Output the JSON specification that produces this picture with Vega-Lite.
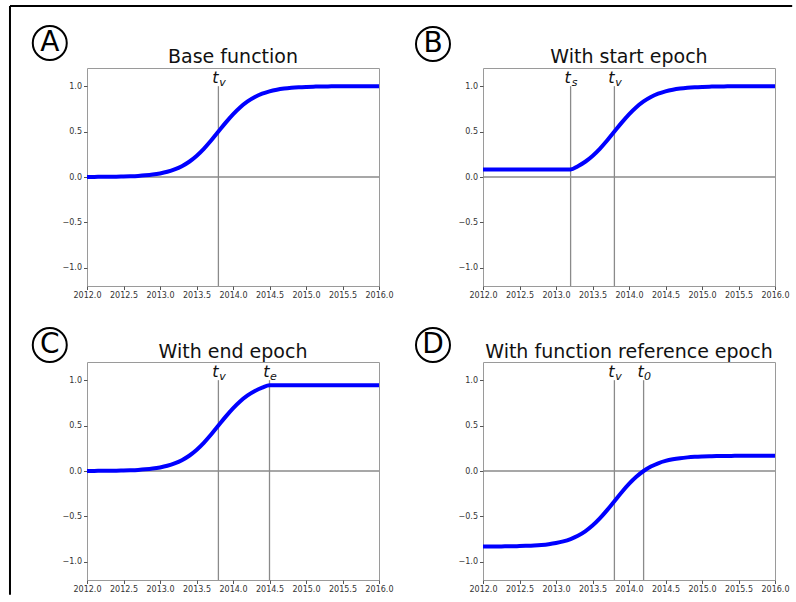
{
  "$schema": "https://vega.github.io/schema/vega-lite/v6.json",
  "padding": {"left": 8, "top": 4, "right": 0, "bottom": 0},
  "bounds": "flush",
  "columns": 2,
  "spacing": {"row": 76, "column": 104},
  "config": {
    "font": "DejaVu Sans",
    "view": {"stroke": "#9a9a9a", "strokeWidth": 1},
    "axis": {"grid": false, "domain": false, "labelFont": "DejaVu Sans", "labelFontSize": 8, "labelColor": "#333333", "tickColor": "#555555", "tickSize": 3.5, "labelPadding": 2, "labelFlush": false, "labelOverlap": false},
    "axisX": {"values": [2012, 2012.5, 2013, 2013.5, 2014, 2014.5, 2015, 2015.5, 2016], "format": ".1f"},
    "axisY": {"values": [-1, -0.5, 0, 0.5, 1], "format": ".1f"}
  },
  "datasets": {
    "curves": [
      {"x": 2012.0, "A": 0.0007, "B": 0.0832, "C": 0.0007, "D": -0.8313},
      {"x": 2012.1, "A": 0.0011, "B": 0.0832, "C": 0.0011, "D": -0.8309},
      {"x": 2012.2, "A": 0.0017, "B": 0.0832, "C": 0.0017, "D": -0.8303},
      {"x": 2012.3, "A": 0.0025, "B": 0.0832, "C": 0.0025, "D": -0.8295},
      {"x": 2012.4, "A": 0.0037, "B": 0.0832, "C": 0.0037, "D": -0.8283},
      {"x": 2012.5, "A": 0.0055, "B": 0.0832, "C": 0.0055, "D": -0.8265},
      {"x": 2012.6, "A": 0.0082, "B": 0.0832, "C": 0.0082, "D": -0.8238},
      {"x": 2012.7, "A": 0.0121, "B": 0.0832, "C": 0.0121, "D": -0.8199},
      {"x": 2012.8, "A": 0.0180, "B": 0.0832, "C": 0.0180, "D": -0.8140},
      {"x": 2012.9, "A": 0.0266, "B": 0.0832, "C": 0.0266, "D": -0.8054},
      {"x": 2013.0, "A": 0.0392, "B": 0.0832, "C": 0.0392, "D": -0.7928},
      {"x": 2013.1, "A": 0.0573, "B": 0.0832, "C": 0.0573, "D": -0.7747},
      {"x": 2013.2, "A": 0.0832, "B": 0.0832, "C": 0.0832, "D": -0.7488},
      {"x": 2013.3, "A": 0.1192, "B": 0.1192, "C": 0.1192, "D": -0.7128},
      {"x": 2013.4, "A": 0.1680, "B": 0.1680, "C": 0.1680, "D": -0.6640},
      {"x": 2013.5, "A": 0.2315, "B": 0.2315, "C": 0.2315, "D": -0.6005},
      {"x": 2013.6, "A": 0.3100, "B": 0.3100, "C": 0.3100, "D": -0.5220},
      {"x": 2013.7, "A": 0.4013, "B": 0.4013, "C": 0.4013, "D": -0.4307},
      {"x": 2013.8, "A": 0.5000, "B": 0.5000, "C": 0.5000, "D": -0.3320},
      {"x": 2013.9, "A": 0.5987, "B": 0.5987, "C": 0.5987, "D": -0.2333},
      {"x": 2014.0, "A": 0.6900, "B": 0.6900, "C": 0.6900, "D": -0.1420},
      {"x": 2014.1, "A": 0.7685, "B": 0.7685, "C": 0.7685, "D": -0.0635},
      {"x": 2014.2, "A": 0.8320, "B": 0.8320, "C": 0.8320, "D": 0.0000},
      {"x": 2014.3, "A": 0.8808, "B": 0.8808, "C": 0.8808, "D": 0.0488},
      {"x": 2014.4, "A": 0.9168, "B": 0.9168, "C": 0.9168, "D": 0.0848},
      {"x": 2014.5, "A": 0.9427, "B": 0.9427, "C": 0.9427, "D": 0.1107},
      {"x": 2014.6, "A": 0.9608, "B": 0.9608, "C": 0.9427, "D": 0.1288},
      {"x": 2014.7, "A": 0.9734, "B": 0.9734, "C": 0.9427, "D": 0.1414},
      {"x": 2014.8, "A": 0.9820, "B": 0.9820, "C": 0.9427, "D": 0.1500},
      {"x": 2014.9, "A": 0.9879, "B": 0.9879, "C": 0.9427, "D": 0.1559},
      {"x": 2015.0, "A": 0.9918, "B": 0.9918, "C": 0.9427, "D": 0.1598},
      {"x": 2015.1, "A": 0.9945, "B": 0.9945, "C": 0.9427, "D": 0.1625},
      {"x": 2015.2, "A": 0.9963, "B": 0.9963, "C": 0.9427, "D": 0.1643},
      {"x": 2015.3, "A": 0.9975, "B": 0.9975, "C": 0.9427, "D": 0.1655},
      {"x": 2015.4, "A": 0.9983, "B": 0.9983, "C": 0.9427, "D": 0.1663},
      {"x": 2015.5, "A": 0.9989, "B": 0.9989, "C": 0.9427, "D": 0.1669},
      {"x": 2015.6, "A": 0.9992, "B": 0.9992, "C": 0.9427, "D": 0.1672},
      {"x": 2015.7, "A": 0.9995, "B": 0.9995, "C": 0.9427, "D": 0.1675},
      {"x": 2015.8, "A": 0.9996, "B": 0.9996, "C": 0.9427, "D": 0.1676},
      {"x": 2015.9, "A": 0.9998, "B": 0.9998, "C": 0.9427, "D": 0.1678},
      {"x": 2016.0, "A": 0.9998, "B": 0.9998, "C": 0.9427, "D": 0.1678}
    ],
    "vlines": [
      {"p": "A", "x": 2013.8, "main": "t", "sub": "v"},
      {"p": "B", "x": 2013.2, "main": "t", "sub": "s"},
      {"p": "B", "x": 2013.8, "main": "t", "sub": "v"},
      {"p": "C", "x": 2013.8, "main": "t", "sub": "v"},
      {"p": "C", "x": 2014.5, "main": "t", "sub": "e"},
      {"p": "D", "x": 2013.8, "main": "t", "sub": "v"},
      {"p": "D", "x": 2014.2, "main": "t", "sub": "0"}
    ],
    "hlines": [
      {"p": "A", "y": 0}, {"p": "B", "y": 0}, {"p": "C", "y": 0}, {"p": "D", "y": 0}
    ],
    "badges": [
      {"p": "A", "letter": "A", "title": "Base function"},
      {"p": "B", "letter": "B", "title": "With start epoch"},
      {"p": "C", "letter": "C", "title": "With end epoch"},
      {"p": "D", "letter": "D", "title": "With function reference epoch"}
    ]
  },
  "concat": [
    {
      "width": 292, "height": 218,
      "layer": [
        {"data": {"name": "badges"}, "transform": [{"filter": "datum.p == 'A'"}], "mark": {"type": "rule", "color": "#000000", "strokeWidth": 2},
         "encoding": {"x": {"datum": 2010.945, "type": "quantitative", "scale": {"domain": [2012, 2016], "nice": false, "zero": false}}, "y": {"datum": 1.8826, "type": "quantitative", "scale": {"domain": [-1.2, 1.2], "nice": false, "zero": false}}, "y2": {"datum": -4.6}}},
        {"data": {"name": "badges"}, "transform": [{"filter": "datum.p == 'A'"}], "mark": {"type": "rule", "color": "#000000", "strokeWidth": 2},
         "encoding": {"x": {"datum": 2010.945, "type": "quantitative", "scale": {"domain": [2012, 2016], "nice": false, "zero": false}}, "x2": {"datum": 2021.66}, "y": {"datum": 1.8826, "type": "quantitative", "scale": {"domain": [-1.2, 1.2], "nice": false, "zero": false}}}},
        {"data": {"name": "hlines"}, "transform": [{"filter": "datum.p == 'A'"}], "mark": {"type": "rule", "color": "#8a8a8a", "strokeWidth": 1.3},
         "encoding": {"y": {"field": "y", "type": "quantitative", "title": null, "scale": {"domain": [-1.2, 1.2], "nice": false, "zero": false}}}},
        {"data": {"name": "vlines"}, "transform": [{"filter": "datum.p == 'A'"}], "mark": {"type": "rule", "color": "#8a8a8a", "strokeWidth": 1.3},
         "encoding": {"x": {"field": "x", "type": "quantitative", "title": null, "scale": {"domain": [2012, 2016], "nice": false, "zero": false}}, "y": {"datum": -1.2, "type": "quantitative", "scale": {"domain": [-1.2, 1.2], "nice": false, "zero": false}}, "y2": {"datum": 1.0}}},
        {"data": {"name": "curves"}, "transform": [{"fold": ["A"], "as": ["p", "y"]}], "mark": {"type": "line", "color": "#0000ff", "strokeWidth": 4, "interpolate": "monotone"},
         "encoding": {"x": {"field": "x", "type": "quantitative", "title": null, "scale": {"domain": [2012, 2016], "nice": false, "zero": false}}, "y": {"field": "y", "type": "quantitative", "title": null, "scale": {"domain": [-1.2, 1.2], "nice": false, "zero": false}}}},
        {"data": {"name": "vlines"}, "transform": [{"filter": "datum.p == 'A'"}], "mark": {"type": "text", "font": "DejaVu Sans", "fontStyle": "italic", "fontSize": 16, "dx": -3, "dy": -3, "baseline": "alphabetic", "align": "center", "color": "#111111"},
         "encoding": {"x": {"field": "x", "type": "quantitative", "title": null, "scale": {"domain": [2012, 2016], "nice": false, "zero": false}}, "y": {"datum": 1.0, "type": "quantitative", "scale": {"domain": [-1.2, 1.2], "nice": false, "zero": false}}, "text": {"field": "main"}}},
        {"data": {"name": "vlines"}, "transform": [{"filter": "datum.p == 'A'"}], "mark": {"type": "text", "font": "DejaVu Sans", "fontStyle": "italic", "fontSize": 11, "dx": 4, "dy": 0, "baseline": "alphabetic", "align": "center", "color": "#111111"},
         "encoding": {"x": {"field": "x", "type": "quantitative", "title": null, "scale": {"domain": [2012, 2016], "nice": false, "zero": false}}, "y": {"datum": 1.0, "type": "quantitative", "scale": {"domain": [-1.2, 1.2], "nice": false, "zero": false}}, "text": {"field": "sub"}}},
        {"data": {"name": "badges"}, "transform": [{"filter": "datum.p == 'A'"}], "mark": {"type": "text", "fontSize": 19, "baseline": "alphabetic", "align": "center", "color": "#111111", "dy": -5},
         "encoding": {"x": {"datum": 2014, "type": "quantitative", "scale": {"domain": [2012, 2016], "nice": false, "zero": false}}, "y": {"datum": 1.2, "type": "quantitative", "scale": {"domain": [-1.2, 1.2], "nice": false, "zero": false}}, "text": {"field": "title"}}},
        {"data": {"name": "badges"}, "transform": [{"filter": "datum.p == 'A'"}], "mark": {"type": "point", "shape": "circle", "filled": false, "size": 1156, "stroke": "#000000", "strokeWidth": 2, "opacity": 1},
         "encoding": {"x": {"datum": 2011.49, "type": "quantitative", "scale": {"domain": [2012, 2016], "nice": false, "zero": false}}, "y": {"datum": 1.475, "type": "quantitative", "scale": {"domain": [-1.2, 1.2], "nice": false, "zero": false}}}},
        {"data": {"name": "badges"}, "transform": [{"filter": "datum.p == 'A'"}], "mark": {"type": "text", "fontSize": 28, "baseline": "middle", "align": "center", "color": "#000000"},
         "encoding": {"x": {"datum": 2011.49, "type": "quantitative", "scale": {"domain": [2012, 2016], "nice": false, "zero": false}}, "y": {"datum": 1.475, "type": "quantitative", "scale": {"domain": [-1.2, 1.2], "nice": false, "zero": false}}, "text": {"field": "letter"}}}
      ]
    },
    {
      "width": 292, "height": 218,
      "layer": [
        {"data": {"name": "hlines"}, "transform": [{"filter": "datum.p == 'B'"}], "mark": {"type": "rule", "color": "#8a8a8a", "strokeWidth": 1.3},
         "encoding": {"y": {"field": "y", "type": "quantitative", "title": null, "scale": {"domain": [-1.2, 1.2], "nice": false, "zero": false}}}},
        {"data": {"name": "vlines"}, "transform": [{"filter": "datum.p == 'B'"}], "mark": {"type": "rule", "color": "#8a8a8a", "strokeWidth": 1.3},
         "encoding": {"x": {"field": "x", "type": "quantitative", "title": null, "scale": {"domain": [2012, 2016], "nice": false, "zero": false}}, "y": {"datum": -1.2, "type": "quantitative", "scale": {"domain": [-1.2, 1.2], "nice": false, "zero": false}}, "y2": {"datum": 1.0}}},
        {"data": {"name": "curves"}, "transform": [{"fold": ["B"], "as": ["p", "y"]}], "mark": {"type": "line", "color": "#0000ff", "strokeWidth": 4, "interpolate": "monotone"},
         "encoding": {"x": {"field": "x", "type": "quantitative", "title": null, "scale": {"domain": [2012, 2016], "nice": false, "zero": false}}, "y": {"field": "y", "type": "quantitative", "title": null, "scale": {"domain": [-1.2, 1.2], "nice": false, "zero": false}}}},
        {"data": {"name": "vlines"}, "transform": [{"filter": "datum.p == 'B'"}], "mark": {"type": "text", "font": "DejaVu Sans", "fontStyle": "italic", "fontSize": 16, "dx": -3, "dy": -3, "baseline": "alphabetic", "align": "center", "color": "#111111"},
         "encoding": {"x": {"field": "x", "type": "quantitative", "title": null, "scale": {"domain": [2012, 2016], "nice": false, "zero": false}}, "y": {"datum": 1.0, "type": "quantitative", "scale": {"domain": [-1.2, 1.2], "nice": false, "zero": false}}, "text": {"field": "main"}}},
        {"data": {"name": "vlines"}, "transform": [{"filter": "datum.p == 'B'"}], "mark": {"type": "text", "font": "DejaVu Sans", "fontStyle": "italic", "fontSize": 11, "dx": 4, "dy": 0, "baseline": "alphabetic", "align": "center", "color": "#111111"},
         "encoding": {"x": {"field": "x", "type": "quantitative", "title": null, "scale": {"domain": [2012, 2016], "nice": false, "zero": false}}, "y": {"datum": 1.0, "type": "quantitative", "scale": {"domain": [-1.2, 1.2], "nice": false, "zero": false}}, "text": {"field": "sub"}}},
        {"data": {"name": "badges"}, "transform": [{"filter": "datum.p == 'B'"}], "mark": {"type": "text", "fontSize": 19, "baseline": "alphabetic", "align": "center", "color": "#111111", "dy": -5},
         "encoding": {"x": {"datum": 2014, "type": "quantitative", "scale": {"domain": [2012, 2016], "nice": false, "zero": false}}, "y": {"datum": 1.2, "type": "quantitative", "scale": {"domain": [-1.2, 1.2], "nice": false, "zero": false}}, "text": {"field": "title"}}},
        {"data": {"name": "badges"}, "transform": [{"filter": "datum.p == 'B'"}], "mark": {"type": "point", "shape": "circle", "filled": false, "size": 1156, "stroke": "#000000", "strokeWidth": 2, "opacity": 1},
         "encoding": {"x": {"datum": 2011.315, "type": "quantitative", "scale": {"domain": [2012, 2016], "nice": false, "zero": false}}, "y": {"datum": 1.464, "type": "quantitative", "scale": {"domain": [-1.2, 1.2], "nice": false, "zero": false}}}},
        {"data": {"name": "badges"}, "transform": [{"filter": "datum.p == 'B'"}], "mark": {"type": "text", "fontSize": 28, "baseline": "middle", "align": "center", "color": "#000000"},
         "encoding": {"x": {"datum": 2011.315, "type": "quantitative", "scale": {"domain": [2012, 2016], "nice": false, "zero": false}}, "y": {"datum": 1.464, "type": "quantitative", "scale": {"domain": [-1.2, 1.2], "nice": false, "zero": false}}, "text": {"field": "letter"}}}
      ]
    },
    {
      "width": 292, "height": 218,
      "layer": [
        {"data": {"name": "hlines"}, "transform": [{"filter": "datum.p == 'C'"}], "mark": {"type": "rule", "color": "#8a8a8a", "strokeWidth": 1.3},
         "encoding": {"y": {"field": "y", "type": "quantitative", "title": null, "scale": {"domain": [-1.2, 1.2], "nice": false, "zero": false}}}},
        {"data": {"name": "vlines"}, "transform": [{"filter": "datum.p == 'C'"}], "mark": {"type": "rule", "color": "#8a8a8a", "strokeWidth": 1.3},
         "encoding": {"x": {"field": "x", "type": "quantitative", "title": null, "scale": {"domain": [2012, 2016], "nice": false, "zero": false}}, "y": {"datum": -1.2, "type": "quantitative", "scale": {"domain": [-1.2, 1.2], "nice": false, "zero": false}}, "y2": {"datum": 1.0}}},
        {"data": {"name": "curves"}, "transform": [{"fold": ["C"], "as": ["p", "y"]}], "mark": {"type": "line", "color": "#0000ff", "strokeWidth": 4, "interpolate": "monotone"},
         "encoding": {"x": {"field": "x", "type": "quantitative", "title": null, "scale": {"domain": [2012, 2016], "nice": false, "zero": false}}, "y": {"field": "y", "type": "quantitative", "title": null, "scale": {"domain": [-1.2, 1.2], "nice": false, "zero": false}}}},
        {"data": {"name": "vlines"}, "transform": [{"filter": "datum.p == 'C'"}], "mark": {"type": "text", "font": "DejaVu Sans", "fontStyle": "italic", "fontSize": 16, "dx": -3, "dy": -3, "baseline": "alphabetic", "align": "center", "color": "#111111"},
         "encoding": {"x": {"field": "x", "type": "quantitative", "title": null, "scale": {"domain": [2012, 2016], "nice": false, "zero": false}}, "y": {"datum": 1.0, "type": "quantitative", "scale": {"domain": [-1.2, 1.2], "nice": false, "zero": false}}, "text": {"field": "main"}}},
        {"data": {"name": "vlines"}, "transform": [{"filter": "datum.p == 'C'"}], "mark": {"type": "text", "font": "DejaVu Sans", "fontStyle": "italic", "fontSize": 11, "dx": 4, "dy": 0, "baseline": "alphabetic", "align": "center", "color": "#111111"},
         "encoding": {"x": {"field": "x", "type": "quantitative", "title": null, "scale": {"domain": [2012, 2016], "nice": false, "zero": false}}, "y": {"datum": 1.0, "type": "quantitative", "scale": {"domain": [-1.2, 1.2], "nice": false, "zero": false}}, "text": {"field": "sub"}}},
        {"data": {"name": "badges"}, "transform": [{"filter": "datum.p == 'C'"}], "mark": {"type": "text", "fontSize": 19, "baseline": "alphabetic", "align": "center", "color": "#111111", "dy": -4},
         "encoding": {"x": {"datum": 2014, "type": "quantitative", "scale": {"domain": [2012, 2016], "nice": false, "zero": false}}, "y": {"datum": 1.2, "type": "quantitative", "scale": {"domain": [-1.2, 1.2], "nice": false, "zero": false}}, "text": {"field": "title"}}},
        {"data": {"name": "badges"}, "transform": [{"filter": "datum.p == 'C'"}], "mark": {"type": "point", "shape": "circle", "filled": false, "size": 1156, "stroke": "#000000", "strokeWidth": 2, "opacity": 1},
         "encoding": {"x": {"datum": 2011.49, "type": "quantitative", "scale": {"domain": [2012, 2016], "nice": false, "zero": false}}, "y": {"datum": 1.387, "type": "quantitative", "scale": {"domain": [-1.2, 1.2], "nice": false, "zero": false}}}},
        {"data": {"name": "badges"}, "transform": [{"filter": "datum.p == 'C'"}], "mark": {"type": "text", "fontSize": 28, "baseline": "middle", "align": "center", "color": "#000000"},
         "encoding": {"x": {"datum": 2011.49, "type": "quantitative", "scale": {"domain": [2012, 2016], "nice": false, "zero": false}}, "y": {"datum": 1.387, "type": "quantitative", "scale": {"domain": [-1.2, 1.2], "nice": false, "zero": false}}, "text": {"field": "letter"}}}
      ]
    },
    {
      "width": 292, "height": 218,
      "layer": [
        {"data": {"name": "hlines"}, "transform": [{"filter": "datum.p == 'D'"}], "mark": {"type": "rule", "color": "#8a8a8a", "strokeWidth": 1.3},
         "encoding": {"y": {"field": "y", "type": "quantitative", "title": null, "scale": {"domain": [-1.2, 1.2], "nice": false, "zero": false}}}},
        {"data": {"name": "vlines"}, "transform": [{"filter": "datum.p == 'D'"}], "mark": {"type": "rule", "color": "#8a8a8a", "strokeWidth": 1.3},
         "encoding": {"x": {"field": "x", "type": "quantitative", "title": null, "scale": {"domain": [2012, 2016], "nice": false, "zero": false}}, "y": {"datum": -1.2, "type": "quantitative", "scale": {"domain": [-1.2, 1.2], "nice": false, "zero": false}}, "y2": {"datum": 1.0}}},
        {"data": {"name": "curves"}, "transform": [{"fold": ["D"], "as": ["p", "y"]}], "mark": {"type": "line", "color": "#0000ff", "strokeWidth": 4, "interpolate": "monotone"},
         "encoding": {"x": {"field": "x", "type": "quantitative", "title": null, "scale": {"domain": [2012, 2016], "nice": false, "zero": false}}, "y": {"field": "y", "type": "quantitative", "title": null, "scale": {"domain": [-1.2, 1.2], "nice": false, "zero": false}}}},
        {"data": {"name": "vlines"}, "transform": [{"filter": "datum.p == 'D'"}], "mark": {"type": "text", "font": "DejaVu Sans", "fontStyle": "italic", "fontSize": 16, "dx": -3, "dy": -3, "baseline": "alphabetic", "align": "center", "color": "#111111"},
         "encoding": {"x": {"field": "x", "type": "quantitative", "title": null, "scale": {"domain": [2012, 2016], "nice": false, "zero": false}}, "y": {"datum": 1.0, "type": "quantitative", "scale": {"domain": [-1.2, 1.2], "nice": false, "zero": false}}, "text": {"field": "main"}}},
        {"data": {"name": "vlines"}, "transform": [{"filter": "datum.p == 'D'"}], "mark": {"type": "text", "font": "DejaVu Sans", "fontStyle": "italic", "fontSize": 11, "dx": 4, "dy": 0, "baseline": "alphabetic", "align": "center", "color": "#111111"},
         "encoding": {"x": {"field": "x", "type": "quantitative", "title": null, "scale": {"domain": [2012, 2016], "nice": false, "zero": false}}, "y": {"datum": 1.0, "type": "quantitative", "scale": {"domain": [-1.2, 1.2], "nice": false, "zero": false}}, "text": {"field": "sub"}}},
        {"data": {"name": "badges"}, "transform": [{"filter": "datum.p == 'D'"}], "mark": {"type": "text", "fontSize": 19, "baseline": "alphabetic", "align": "center", "color": "#111111", "dy": -4},
         "encoding": {"x": {"datum": 2014, "type": "quantitative", "scale": {"domain": [2012, 2016], "nice": false, "zero": false}}, "y": {"datum": 1.2, "type": "quantitative", "scale": {"domain": [-1.2, 1.2], "nice": false, "zero": false}}, "text": {"field": "title"}}},
        {"data": {"name": "badges"}, "transform": [{"filter": "datum.p == 'D'"}], "mark": {"type": "point", "shape": "circle", "filled": false, "size": 1156, "stroke": "#000000", "strokeWidth": 2, "opacity": 1},
         "encoding": {"x": {"datum": 2011.315, "type": "quantitative", "scale": {"domain": [2012, 2016], "nice": false, "zero": false}}, "y": {"datum": 1.387, "type": "quantitative", "scale": {"domain": [-1.2, 1.2], "nice": false, "zero": false}}}},
        {"data": {"name": "badges"}, "transform": [{"filter": "datum.p == 'D'"}], "mark": {"type": "text", "fontSize": 28, "baseline": "middle", "align": "center", "color": "#000000"},
         "encoding": {"x": {"datum": 2011.315, "type": "quantitative", "scale": {"domain": [2012, 2016], "nice": false, "zero": false}}, "y": {"datum": 1.387, "type": "quantitative", "scale": {"domain": [-1.2, 1.2], "nice": false, "zero": false}}, "text": {"field": "letter"}}}
      ]
    }
  ]
}
